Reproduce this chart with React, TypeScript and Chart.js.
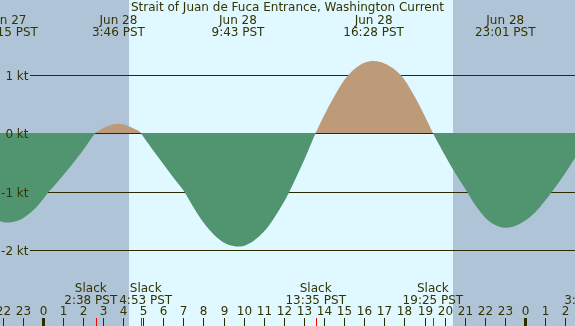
import { useEffect, useRef } from "react";
import { Chart, registerables } from "chart.js";

Chart.register(...registerables);

// Current speed in knots (positive = flood, negative = ebb), hours from Jun 28 00:00 PST
const curveHours = [
  -3, -2.5, -2, -1.75, -1.5, -1, -0.5, 0, 0.31, 0.5, 1, 1.5, 2, 2.633,
  2.75, 3, 3.25, 3.5, 3.767, 4, 4.5, 4.883,
  5, 5.5, 6, 6.5, 7, 7.5, 8, 8.5, 9, 9.5, 9.717, 10, 10.5, 11, 11.5, 12, 12.28, 12.5, 13, 13.583,
  14, 14.5, 15, 15.5, 16, 16.467, 17, 17.5, 18, 18.5, 19, 19.417,
  20, 20.5, 21, 21.5, 22, 22.5, 23.017, 23.5, 24, 24.5, 25, 25.35, 25.5, 26, 26.5, 27, 27.267,
];
const curveKnots = [
  -1.33, -1.46, -1.52, -1.53, -1.52, -1.46, -1.33, -1.14, -1.0, -0.93, -0.73, -0.52, -0.3, 0,
  0.03, 0.08, 0.12, 0.15, 0.16, 0.15, 0.08, 0,
  -0.06, -0.3, -0.53, -0.76, -0.98, -1.27, -1.53, -1.73, -1.87, -1.93, -1.94, -1.93, -1.84,
  -1.69, -1.46, -1.18, -1.0, -0.84, -0.47, 0,
  0.3, 0.62, 0.9, 1.09, 1.2, 1.23, 1.19, 1.09, 0.91, 0.63, 0.3, 0,
  -0.37, -0.67, -0.94, -1.22, -1.44, -1.57, -1.62, -1.59, -1.5, -1.36, -1.16, -1.0, -0.93,
  -0.69, -0.42, -0.15, 0,
];

// Maximum flood / maximum ebb events
const extremaDates = ["Jun 27", "Jun 28", "Jun 28", "Jun 28", "Jun 28"];
const extremaTimes = ["22:15", "3:46", "9:43", "16:28", "23:01"];

// Slack water events
const slackDates = ["Jun 28", "Jun 28", "Jun 28", "Jun 28", "Jun 29"];
const slackTimes = ["2:38", "4:53", "13:35", "19:25", "3:16"];

// Speed rules and their labels
const knotTicks = [1, 0, -1, -2];
const knotLabels = ["1 kt", "0 kt", "-1 kt", "-2 kt"];

// Daylight interval (sunrise 4:18, sunset 20:26)
const sunrise = "4:18";
const sunset = "20:26";

const TITLE = "Strait of Juan de Fuca Entrance, Washington Current";

const FONT = "12px 'DejaVu Sans', 'Bitstream Vera Sans', sans-serif";
const TEXT = "#333300";
const RULE = "#2b2b00";
const NIGHT = "#b0c4d8";
const DAY = "#e0f8ff";
const FLOOD = "#bd9a78";
const EBB = "#519470";
const SLACK_MARK = "#ff0000";

const dayOffset: Record<string, number> = { "Jun 27": -24, "Jun 28": 0, "Jun 29": 24 };

function clockToHours(t: string): number {
  const [h, m] = t.split(":").map(Number);
  return h + m / 60;
}

function eventHour(date: string, time: string): number {
  return dayOffset[date] + clockToHours(time);
}

type LabelBox = { cx: number; w: number };

// Spread neighbouring label blocks apart so they never overlap
function spread(items: LabelBox[], gap: number) {
  for (let pass = 0; pass < 4; pass++) {
    for (let i = 1; i < items.length; i++) {
      const a = items[i - 1];
      const b = items[i];
      const overlap = a.cx + a.w / 2 + gap - (b.cx - b.w / 2);
      if (overlap > 0) {
        a.cx -= overlap / 2;
        b.cx += overlap / 2;
      }
    }
  }
}

const tideDecor = {
  id: "tideDecor",
  beforeDraw(chart: any) {
    const { ctx, scales } = chart;
    const x = scales.x;
    ctx.save();
    ctx.fillStyle = NIGHT;
    ctx.fillRect(0, 0, chart.width, chart.height);
    const x0 = Math.round(x.getPixelForValue(clockToHours(sunrise)));
    const x1 = Math.round(x.getPixelForValue(clockToHours(sunset)));
    ctx.fillStyle = DAY;
    ctx.fillRect(x0, 0, x1 - x0, chart.height);
    ctx.restore();
  },
  beforeDatasetsDraw(chart: any) {
    const { ctx, scales } = chart;
    const y = scales.y;
    ctx.save();
    ctx.fillStyle = RULE;
    knotTicks.forEach((v) => {
      const py = Math.round(y.getPixelForValue(v) + 0.01);
      ctx.fillRect(30, py, chart.width - 30, 1);
    });
    ctx.restore();
  },
  afterDatasetsDraw(chart: any) {
    const { ctx, scales } = chart;
    const x = scales.x;
    const y = scales.y;
    const W = chart.width;
    const H = chart.height;
    ctx.save();
    ctx.font = FONT;
    ctx.fillStyle = TEXT;
    ctx.textBaseline = "alphabetic";

    // speed labels at the left
    ctx.textAlign = "right";
    knotTicks.forEach((v, i) => {
      const py = Math.round(y.getPixelForValue(v) + 0.01);
      ctx.fillText(knotLabels[i], 28.5, py + 5);
    });

    // title
    ctx.textAlign = "center";
    ctx.fillText(TITLE, W / 2, 11);

    // extrema labels along the top
    const top: LabelBox[] = extremaTimes.map((t, i) => {
      const txt = t + " PST";
      return {
        cx: x.getPixelForValue(eventHour(extremaDates[i], t)),
        w: Math.max(ctx.measureText(txt).width, ctx.measureText(extremaDates[i]).width),
      };
    });
    spread(top, 2);
    top.forEach((b, i) => {
      ctx.fillText(extremaDates[i], b.cx, 24);
      ctx.fillText(extremaTimes[i] + " PST", b.cx, 36);
    });

    // slack labels along the bottom
    const bottom: LabelBox[] = slackTimes.map((t, i) => {
      const txt = t + " PST";
      return {
        cx: x.getPixelForValue(eventHour(slackDates[i], t)),
        w: Math.max(ctx.measureText(txt).width, ctx.measureText("Slack").width),
      };
    });
    spread(bottom, 2);
    bottom.forEach((b, i) => {
      ctx.fillText("Slack", b.cx, 292);
      ctx.fillText(slackTimes[i] + " PST", b.cx, 304);
    });

    // hour ticks and numbers
    const tickTop = 318;
    const tickLen = H - tickTop;
    for (let hh = Math.ceil(x.min); hh <= Math.floor(x.max); hh++) {
      const px = Math.round(x.getPixelForValue(hh));
      const label = String(((hh % 24) + 24) % 24);
      ctx.fillStyle = TEXT;
      ctx.fillText(label, px + 0.5, 315);
      ctx.fillStyle = RULE;
      if (label === "0") ctx.fillRect(px - 1, tickTop, 3, tickLen);
      else ctx.fillRect(px, tickTop, 1, tickLen);
    }

    // slack markers
    ctx.fillStyle = SLACK_MARK;
    slackTimes.forEach((t, i) => {
      const px = Math.round(x.getPixelForValue(eventHour(slackDates[i], t)));
      ctx.fillRect(px, tickTop, 1, tickLen);
    });

    ctx.restore();
  },
};

export default function App() {
  const canvasRef = useRef<HTMLCanvasElement | null>(null);

  useEffect(() => {
    document.body.style.margin = "0";
    const canvas = canvasRef.current;
    if (!canvas) return;

    const chart = new Chart(canvas, {
      type: "line",
      data: {
        datasets: [
          {
            data: curveHours.map((h, i) => ({ x: h, y: curveKnots[i] })),
            borderWidth: 0,
            borderColor: "rgba(0,0,0,0)",
            pointRadius: 0,
            cubicInterpolationMode: "monotone",
            fill: { target: { value: 0 }, above: FLOOD, below: EBB },
          } as any,
        ],
      },
      options: {
        animation: false,
        responsive: true,
        maintainAspectRatio: false,
        events: [],
        layout: { padding: 0 },
        plugins: {
          legend: { display: false },
          tooltip: { enabled: false },
          title: { display: false },
        },
        scales: {
          x: { type: "linear", display: false, min: -2.125, max: 26.488 },
          y: { type: "linear", display: false, min: -3.29915, max: 2.2735 },
        },
      },
      plugins: [tideDecor],
    });

    return () => chart.destroy();
  }, []);

  return (
    <div style={{ position: "relative", width: 575, height: 326 }}>
      <canvas ref={canvasRef} style={{ display: "block" }} />
    </div>
  );
}
